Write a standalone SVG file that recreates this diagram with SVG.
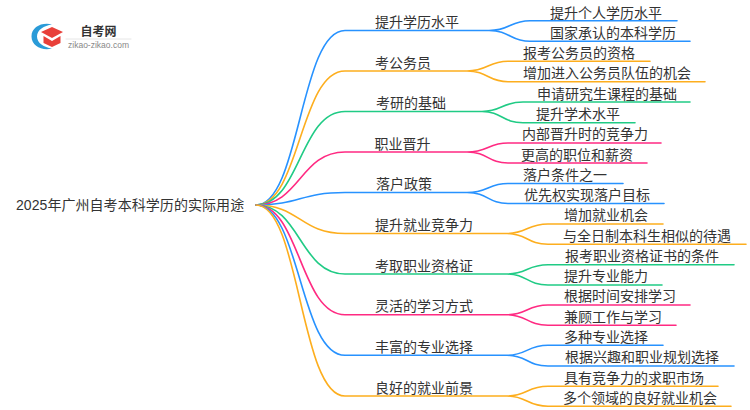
<svg xmlns="http://www.w3.org/2000/svg" width="750" height="410" viewBox="0 0 750 410">
<style>
text{font-family:"Liberation Sans","Noto Sans CJK SC",sans-serif;font-size:14px;fill:#333;text-anchor:middle}
path{fill:none;stroke-width:1.6;stroke-linecap:round}
.b{stroke:#2792ff}.o{stroke:#fdae1e}.g{stroke:#20cb85}.p{stroke:#ff2a82}
.root{text-anchor:start}
</style>
<rect width="750" height="410" fill="#fff"/>
<g id="connectors">
<path class="b" d="M256 205C300 205 300 30.500 345 30.500H489C510 30.500 510 20.700 530 20.700H677M489 30.500C510 30.500 510 41.300 530 41.300H690"/>
<path class="o" d="M256 205C300 205 300 71 345 71H467C488 71 488 61.300 508 61.300H650M467 71C488 71 488 81.700 508 81.700H705"/>
<path class="g" d="M256 205C300 205 300 111.500 345 111.500H482C502 111.500 502 102 523 102H690M482 111.500C502 111.500 502 122.700 523 122.700H635"/>
<path class="p" d="M256 205C300 205 300 152 345 152H467C488 152 488 143 508 143H661M467 152C488 152 488 163 508 163H647"/>
<path class="b" d="M256 205C300 205 300 192.500 345 192.500H467C488 192.500 488 183.500 508 183.500H623M467 192.500C488 192.500 488 203.500 508 203.500H664"/>
<path class="o" d="M256 205C300 205 300 233.500 345 233.500H507C527 233.500 527 224 548 224H663M507 233.500C527 233.500 527 244.300 548 244.300H746"/>
<path class="g" d="M256 205C300 205 300 274 345 274H507C527 274 527 264.700 548 264.700H734M507 274C527 274 527 285 548 285H662"/>
<path class="p" d="M256 205C300 205 300 314.700 345 314.700H507C527 314.700 527 305 548 305H690M507 314.700C527 314.700 527 325.300 548 325.300H676"/>
<path class="b" d="M256 205C300 205 300 355.300 345 355.300H507C527 355.300 527 345.300 548 345.300H663M507 355.300C527 355.300 527 366 548 366H734"/>
<path class="o" d="M256 205C300 205 300 396 345 396H507C527 396 527 386.300 548 386.300H718M507 396C527 396 527 406.300 548 406.300H731"/>
</g>
<g id="root"><text class="root" x="16" y="210" style="letter-spacing:.06px">2025年广州自考本科学历的实际用途</text></g>
<g id="logo">
<path d="M52 24.500C42 22 31.500 27 31.500 36.500C31.500 46 42 51 52 48.500C44 47.500 37 43 37 36.500C37 30 44 25.500 52 24.500Z" style="fill:#2a9bd8;stroke:none"/>
<path d="M41 32L52 27L63 32L52 38Z" style="fill:#e8403a;stroke:none"/>
<path d="M43.500 36L52 41L60.500 36V43L52 47L43.500 43Z" style="fill:#e8403a;stroke:none"/>
<text x="98.500" y="35.500" style="font-size:12px;font-weight:700;fill:#333">自考网</text>
<path d="M66 39H131" style="stroke:#e6e6e6;stroke-width:1"/>
<text x="98.500" y="48" style="font-size:8.500px;fill:#888">zikao-zikao.com</text>
</g>
<g id="n1"><text x="417" y="27">提升学历水平</text></g>
<g id="n2"><text x="403" y="67.500">考公务员</text></g>
<g id="n3"><text x="411" y="108">考研的基础</text></g>
<g id="n4"><text x="402.500" y="149">职业晋升</text></g>
<g id="n5"><text x="404" y="189">落户政策</text></g>
<g id="n6"><text x="424" y="230">提升就业竞争力</text></g>
<g id="n7"><text x="424" y="271">考取职业资格证</text></g>
<g id="n8"><text x="424" y="311">灵活的学习方式</text></g>
<g id="n9"><text x="424" y="352">丰富的专业选择</text></g>
<g id="n10"><text x="424" y="393">良好的就业前景</text></g>
<g id="l1"><text x="606" y="17.500">提升个人学历水平</text></g>
<g id="l2"><text x="613" y="38">国家承认的本科学历</text></g>
<g id="l3"><text x="579" y="58">报考公务员的资格</text></g>
<g id="l4"><text x="607" y="78">增加进入公务员队伍的机会</text></g>
<g id="l5"><text x="607" y="99">申请研究生课程的基础</text></g>
<g id="l6"><text x="578" y="119">提升学术水平</text></g>
<g id="l7"><text x="585" y="139">内部晋升时的竞争力</text></g>
<g id="l8"><text x="577" y="160">更高的职位和薪资</text></g>
<g id="l9"><text x="565" y="180">落户条件之一</text></g>
<g id="l10"><text x="587" y="200">优先权实现落户目标</text></g>
<g id="l11"><text x="606" y="220">增加就业机会</text></g>
<g id="l12"><text x="647" y="241">与全日制本科生相似的待遇</text></g>
<g id="l13"><text x="642" y="261">报考职业资格证书的条件</text></g>
<g id="l14"><text x="606" y="281">提升专业能力</text></g>
<g id="l15"><text x="620" y="301">根据时间安排学习</text></g>
<g id="l16"><text x="613" y="322">兼顾工作与学习</text></g>
<g id="l17"><text x="606" y="342">多种专业选择</text></g>
<g id="l18"><text x="642" y="362">根据兴趣和职业规划选择</text></g>
<g id="l19"><text x="634" y="383">具有竞争力的求职市场</text></g>
<g id="l20"><text x="640" y="403">多个领域的良好就业机会</text></g>
</svg>
